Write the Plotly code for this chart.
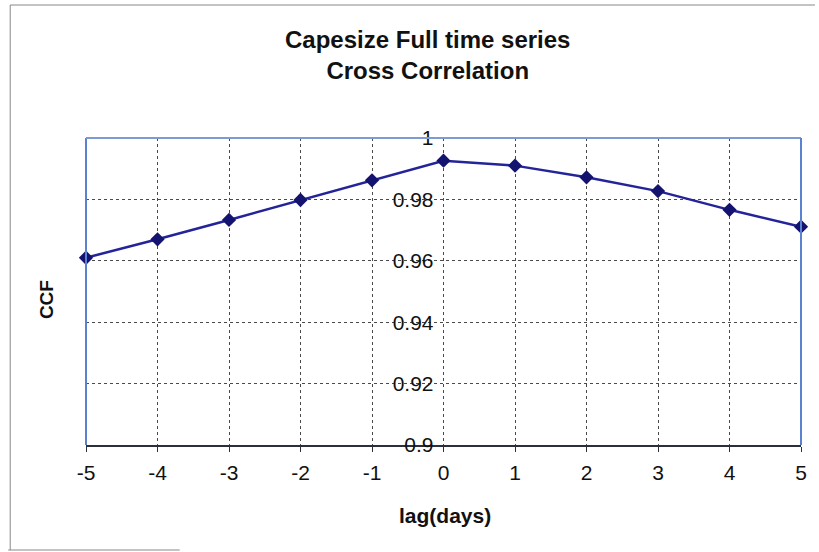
import plotly.graph_objects as go

lags = [-5, -4, -3, -2, -1, 0, 1, 2, 3, 4, 5]
ccf = [0.961, 0.967, 0.9733, 0.9798, 0.9862, 0.9926, 0.991, 0.9872, 0.9827, 0.9766, 0.9711]
y_ticks = [0.9, 0.92, 0.94, 0.96, 0.98, 1.0]
y_ticktext = ["0.9", "0.92", "0.94", "0.96", "0.98", "1"]

W, H = 819, 552
ML, MR, MT, MB = 86, 16, 138, 107
pw, ph = W - ML - MR, H - MT - MB

def px_x(p):
    return (p - ML) / pw

def px_y(p):
    return (H - MB - p) / ph

fig = go.Figure()
fig.add_trace(go.Scatter(
    x=lags, y=ccf, mode="lines+markers",
    line=dict(color="#23239a", width=2.5),
    marker=dict(symbol="diamond", size=11, color="#141470"),
    showlegend=False, cliponaxis=False,
))

font = "Liberation Sans, Arial, sans-serif"
grid_col = "#4a4a4a"

fig.update_layout(
    width=W, height=H,
    margin=dict(l=ML, r=MR, t=MT, b=MB),
    paper_bgcolor="white", plot_bgcolor="white",
    font=dict(family=font, color="#111"),
    xaxis=dict(
        range=[-5, 5], tickvals=lags, ticktext=[str(v) for v in lags],
        showgrid=True, gridcolor=grid_col, griddash="dot", gridwidth=1,
        showline=True, linecolor="#2a2f3a", linewidth=2,
        ticks="outside", ticklen=5, tickcolor="#2a2f3a",
        tickfont=dict(size=21, color="#111"),
        ticklabelstandoff=3,
        zeroline=False,
    ),
    yaxis=dict(
        range=[0.9, 1.0], tickvals=y_ticks, ticktext=y_ticktext,
        showgrid=True, gridcolor=grid_col, griddash="dot", gridwidth=1,
        anchor="free", position=0.5, showline=False, ticks="",
        ticklabelstandoff=10,
        tickfont=dict(size=21, color="#111"),
        zeroline=False,
    ),
    annotations=[
        dict(text="<b>Capesize Full time series<br>Cross Correlation</b>",
             xref="paper", yref="paper", x=px_x(428), y=px_y(55),
             xanchor="center", yanchor="middle", showarrow=False,
             font=dict(size=24, color="#111")),
        dict(text="<b>CCF</b>", textangle=-90, xref="paper", yref="paper",
             x=px_x(46), y=px_y(300), xanchor="center", yanchor="middle",
             showarrow=False, font=dict(size=19, color="#111")),
        dict(text="<b>lag(days)</b>", xref="paper", yref="paper",
             x=px_x(446), y=px_y(515), xanchor="center", yanchor="middle",
             showarrow=False, font=dict(size=21, color="#111")),
    ],
    shapes=[
        dict(type="line", xref="paper", yref="paper", x0=0, x1=0, y0=0, y1=1,
             line=dict(color="#5b82d0", width=2)),
        dict(type="line", xref="paper", yref="paper", x0=0, x1=1, y0=1, y1=1,
             line=dict(color="#7d9ad6", width=2)),
        dict(type="line", xref="paper", yref="paper", x0=1, x1=1, y0=0, y1=1,
             line=dict(color="#5b82d0", width=2)),
        dict(type="path", xref="paper", yref="paper",
             path="M {a},{b} L {a},{c} L {d},{c}".format(
                 a=px_x(10), b=px_y(550), c=px_y(5), d=px_x(817)),
             line=dict(color="#888", width=1)),
        dict(type="line", xref="paper", yref="paper",
             x0=px_x(8), x1=px_x(180), y0=px_y(550), y1=px_y(550),
             line=dict(color="#888", width=1)),
    ],
)

fig.write_html("out.html")
